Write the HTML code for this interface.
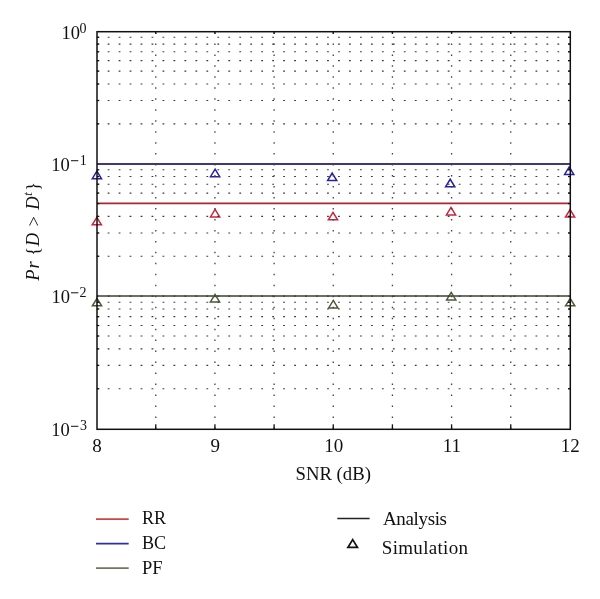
<!DOCTYPE html>
<html><head><meta charset="utf-8"><style>
html,body{margin:0;padding:0;background:#fff;}
svg{display:block;will-change:transform;}
text{font-family:"Liberation Serif",serif;fill:#111;}
.tl{font-size:19px;}
.yl{font-size:18.5px;}
.sup{font-size:14px;}
.it{font-style:italic;}
</style></head><body>
<svg width="600" height="599" viewBox="0 0 600 599">
<rect width="600" height="599" fill="#fff"/>
<line x1="97.00" y1="203.35" x2="570.30" y2="203.35" stroke="#b02430" stroke-width="1.6"/><line x1="97.00" y1="163.9" x2="570.30" y2="163.9" stroke="#41377f" stroke-width="2.0"/><line x1="97.00" y1="295.9" x2="570.30" y2="295.9" stroke="#697362" stroke-width="2.0"/><path d="M96.80,217.35 L101.40,224.85 L92.20,224.85 Z M215.10,209.40 L219.70,216.90 L210.50,216.90 Z M333.00,212.35 L337.60,219.85 L328.40,219.85 Z M451.00,207.45 L455.60,214.95 L446.40,214.95 Z M570.10,209.55 L574.70,217.05 L565.50,217.05 Z" fill="none" stroke="#c8263e" stroke-width="1.5" stroke-linejoin="miter"/><path d="M96.90,171.15 L101.50,178.65 L92.30,178.65 Z M215.10,169.15 L219.70,176.65 L210.50,176.65 Z M332.20,173.05 L336.80,180.55 L327.60,180.55 Z M450.20,179.25 L454.80,186.75 L445.60,186.75 Z M569.20,166.95 L573.80,174.45 L564.60,174.45 Z" fill="none" stroke="#2820a0" stroke-width="1.5" stroke-linejoin="miter"/><path d="M97.00,298.35 L101.60,305.85 L92.40,305.85 Z M215.00,294.45 L219.60,301.95 L210.40,301.95 Z M333.30,300.45 L337.90,307.95 L328.70,307.95 Z M451.20,292.45 L455.80,299.95 L446.60,299.95 Z M570.20,298.35 L574.80,305.85 L565.60,305.85 Z" fill="none" stroke="#4e5838" stroke-width="1.5" stroke-linejoin="miter"/>
<g stroke="#383838" stroke-width="1.1" stroke-dasharray="1.8 9.17" fill="none"><line x1="96.70" y1="123.83" x2="570.30" y2="123.83"/><line x1="96.70" y1="100.51" x2="570.30" y2="100.51"/><line x1="96.70" y1="83.96" x2="570.30" y2="83.96"/><line x1="96.70" y1="71.12" x2="570.30" y2="71.12"/><line x1="96.70" y1="60.63" x2="570.30" y2="60.63"/><line x1="96.70" y1="51.77" x2="570.30" y2="51.77"/><line x1="96.70" y1="44.09" x2="570.30" y2="44.09"/><line x1="96.70" y1="37.31" x2="570.30" y2="37.31"/><line x1="96.70" y1="256.28" x2="570.30" y2="256.28"/><line x1="96.70" y1="232.96" x2="570.30" y2="232.96"/><line x1="96.70" y1="216.41" x2="570.30" y2="216.41"/><line x1="96.70" y1="193.08" x2="570.30" y2="193.08"/><line x1="96.70" y1="184.22" x2="570.30" y2="184.22"/><line x1="96.70" y1="176.54" x2="570.30" y2="176.54"/><line x1="96.70" y1="169.76" x2="570.30" y2="169.76"/><line x1="96.70" y1="296.15" x2="570.30" y2="296.15"/><line x1="96.70" y1="388.73" x2="570.30" y2="388.73"/><line x1="96.70" y1="365.41" x2="570.30" y2="365.41"/><line x1="96.70" y1="348.86" x2="570.30" y2="348.86"/><line x1="96.70" y1="336.02" x2="570.30" y2="336.02"/><line x1="96.70" y1="325.53" x2="570.30" y2="325.53"/><line x1="96.70" y1="316.67" x2="570.30" y2="316.67"/><line x1="96.70" y1="308.99" x2="570.30" y2="308.99"/><line x1="96.70" y1="302.21" x2="570.30" y2="302.21"/></g>
<g stroke="#404040" stroke-width="1.3" stroke-dasharray="1.5 9.47" fill="none"><line x1="155.76" y1="32.45" x2="155.76" y2="429.30"/><line x1="214.93" y1="32.45" x2="214.93" y2="429.30"/><line x1="274.10" y1="32.45" x2="274.10" y2="429.30"/><line x1="333.26" y1="32.45" x2="333.26" y2="429.30"/><line x1="392.42" y1="32.45" x2="392.42" y2="429.30"/><line x1="451.59" y1="32.45" x2="451.59" y2="429.30"/><line x1="510.75" y1="32.45" x2="510.75" y2="429.30"/></g>
<g stroke="#111" stroke-width="1.3" fill="none"><line x1="155.76" y1="429.30" x2="155.76" y2="424.30"/><line x1="155.76" y1="31.70" x2="155.76" y2="33.70"/><line x1="214.93" y1="429.30" x2="214.93" y2="424.30"/><line x1="214.93" y1="31.70" x2="214.93" y2="33.70"/><line x1="274.10" y1="429.30" x2="274.10" y2="424.30"/><line x1="274.10" y1="31.70" x2="274.10" y2="33.70"/><line x1="333.26" y1="429.30" x2="333.26" y2="424.30"/><line x1="333.26" y1="31.70" x2="333.26" y2="33.70"/><line x1="392.42" y1="429.30" x2="392.42" y2="424.30"/><line x1="392.42" y1="31.70" x2="392.42" y2="33.70"/><line x1="451.59" y1="429.30" x2="451.59" y2="424.30"/><line x1="451.59" y1="31.70" x2="451.59" y2="33.70"/><line x1="510.75" y1="429.30" x2="510.75" y2="424.30"/><line x1="510.75" y1="31.70" x2="510.75" y2="33.70"/><line x1="97.00" y1="123.83" x2="99.30" y2="123.83"/><line x1="570.30" y1="123.83" x2="568.00" y2="123.83"/><line x1="97.00" y1="100.51" x2="99.30" y2="100.51"/><line x1="570.30" y1="100.51" x2="568.00" y2="100.51"/><line x1="97.00" y1="83.96" x2="99.30" y2="83.96"/><line x1="570.30" y1="83.96" x2="568.00" y2="83.96"/><line x1="97.00" y1="71.12" x2="99.30" y2="71.12"/><line x1="570.30" y1="71.12" x2="568.00" y2="71.12"/><line x1="97.00" y1="60.63" x2="99.30" y2="60.63"/><line x1="570.30" y1="60.63" x2="568.00" y2="60.63"/><line x1="97.00" y1="51.77" x2="99.30" y2="51.77"/><line x1="570.30" y1="51.77" x2="568.00" y2="51.77"/><line x1="97.00" y1="44.09" x2="99.30" y2="44.09"/><line x1="570.30" y1="44.09" x2="568.00" y2="44.09"/><line x1="97.00" y1="37.31" x2="99.30" y2="37.31"/><line x1="570.30" y1="37.31" x2="568.00" y2="37.31"/><line x1="97.00" y1="256.28" x2="99.30" y2="256.28"/><line x1="570.30" y1="256.28" x2="568.00" y2="256.28"/><line x1="97.00" y1="232.96" x2="99.30" y2="232.96"/><line x1="570.30" y1="232.96" x2="568.00" y2="232.96"/><line x1="97.00" y1="216.41" x2="99.30" y2="216.41"/><line x1="570.30" y1="216.41" x2="568.00" y2="216.41"/><line x1="97.00" y1="203.57" x2="99.30" y2="203.57"/><line x1="570.30" y1="203.57" x2="568.00" y2="203.57"/><line x1="97.00" y1="193.08" x2="99.30" y2="193.08"/><line x1="570.30" y1="193.08" x2="568.00" y2="193.08"/><line x1="97.00" y1="184.22" x2="99.30" y2="184.22"/><line x1="570.30" y1="184.22" x2="568.00" y2="184.22"/><line x1="97.00" y1="176.54" x2="99.30" y2="176.54"/><line x1="570.30" y1="176.54" x2="568.00" y2="176.54"/><line x1="97.00" y1="169.76" x2="99.30" y2="169.76"/><line x1="570.30" y1="169.76" x2="568.00" y2="169.76"/><line x1="97.00" y1="388.73" x2="99.30" y2="388.73"/><line x1="570.30" y1="388.73" x2="568.00" y2="388.73"/><line x1="97.00" y1="365.41" x2="99.30" y2="365.41"/><line x1="570.30" y1="365.41" x2="568.00" y2="365.41"/><line x1="97.00" y1="348.86" x2="99.30" y2="348.86"/><line x1="570.30" y1="348.86" x2="568.00" y2="348.86"/><line x1="97.00" y1="336.02" x2="99.30" y2="336.02"/><line x1="570.30" y1="336.02" x2="568.00" y2="336.02"/><line x1="97.00" y1="325.53" x2="99.30" y2="325.53"/><line x1="570.30" y1="325.53" x2="568.00" y2="325.53"/><line x1="97.00" y1="316.67" x2="99.30" y2="316.67"/><line x1="570.30" y1="316.67" x2="568.00" y2="316.67"/><line x1="97.00" y1="308.99" x2="99.30" y2="308.99"/><line x1="570.30" y1="308.99" x2="568.00" y2="308.99"/><line x1="97.00" y1="302.21" x2="99.30" y2="302.21"/><line x1="570.30" y1="302.21" x2="568.00" y2="302.21"/></g>
<rect x="97.00" y="31.70" width="473.30" height="397.60" fill="none" stroke="#111" stroke-width="1.5"/>
<text x="80.00" y="38.75" text-anchor="end" class="yl">10</text><text x="86.55" y="32.70" text-anchor="end" class="sup">0</text><text x="69.70" y="170.70" text-anchor="end" class="yl">10</text><text x="86.70" y="164.70" text-anchor="end" class="sup">1</text><rect x="71.0" y="160.20" width="7.3" height="1.0" fill="#111"/><text x="70.00" y="303.10" text-anchor="end" class="yl">10</text><text x="86.40" y="296.70" text-anchor="end" class="sup">2</text><rect x="71.0" y="292.30" width="7.3" height="1.0" fill="#111"/><text x="69.70" y="436.00" text-anchor="end" class="yl">10</text><text x="87.10" y="429.60" text-anchor="end" class="sup">3</text><rect x="71.0" y="425.80" width="7.3" height="1.0" fill="#111"/>
<text x="97.00" y="452" text-anchor="middle" class="tl">8</text><text x="215.32" y="452" text-anchor="middle" class="tl">9</text><text x="333.65" y="452" text-anchor="middle" class="tl">10</text><text x="451.97" y="452" text-anchor="middle" class="tl">11</text><text x="570.30" y="452" text-anchor="middle" class="tl">12</text>
<text x="295.5" y="479.5" class="tl" textLength="75.4" lengthAdjust="spacingAndGlyphs">SNR (dB)</text>
<g transform="translate(38.7,0) rotate(-90)"><text x="-275.00" y="0" text-anchor="middle" style="font-style:italic;font-size:18.5px">P</text><text x="-265.00" y="0" text-anchor="middle" style="font-style:italic;font-size:18.5px">r</text><text x="-251.25" y="0" text-anchor="middle" style="font-size:18.5px">{</text><text x="-239.50" y="0" text-anchor="middle" style="font-style:italic;font-size:18.5px">D</text><text x="-221.25" y="0.8" text-anchor="middle" style="font-size:18.5px">&gt;</text><text x="-203.10" y="0" text-anchor="middle" style="font-style:italic;font-size:18.5px">D</text><text x="-194.20" y="-7.0" text-anchor="middle" style="font-style:italic;font-size:13.5px">t</text><text x="-186.60" y="0" text-anchor="middle" style="font-size:18.5px">}</text></g>
<g stroke-width="1.6">
<line x1="96" y1="519.1" x2="128.7" y2="519.1" stroke="#d04444"/>
<line x1="96" y1="543.6" x2="128.7" y2="543.6" stroke="#3030a0"/>
<line x1="96" y1="568.1" x2="128.7" y2="568.1" stroke="#6a7a5a"/>
<line x1="337.3" y1="518.6" x2="369.6" y2="518.6" stroke="#222" stroke-width="1.5"/>
<path d="M352.7,539.65 L357.5,547.45 L347.9,547.45 Z" fill="none" stroke="#111" stroke-width="1.7"/>
</g>
<text x="141.9" y="524.2" class="tl" textLength="24.2" lengthAdjust="spacingAndGlyphs">RR</text>
<text x="141.9" y="549.2" class="tl" textLength="24.16" lengthAdjust="spacingAndGlyphs">BC</text>
<text x="141.9" y="573.8" class="tl" textLength="20.6" lengthAdjust="spacingAndGlyphs">PF</text>
<text x="383" y="525" class="tl" textLength="64.0" lengthAdjust="spacing">Analysis</text>
<text x="381.8" y="553.6" class="tl" textLength="86.2" lengthAdjust="spacing">Simulation</text>
</svg>
</body></html>
